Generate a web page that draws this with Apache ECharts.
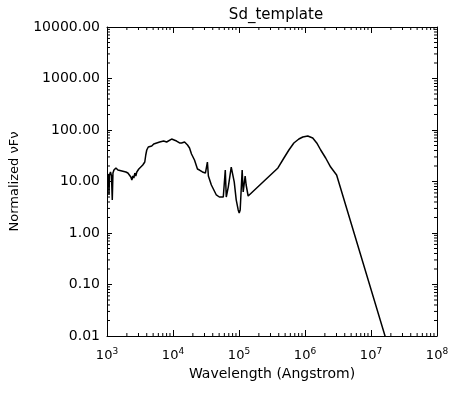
<!DOCTYPE html>
<html>
<head>
<meta charset="utf-8">
<script src="https://cdn.jsdelivr.net/npm/echarts@6/dist/echarts.min.js"></script>
<style>
html,body{margin:0;padding:0;background:#fff;}
#c{width:472px;height:394px;}
</style>
</head>
<body>
<div id="c"></div>
<script>
// Data (wavelength in Angstrom, normalized nuFnu)
const wavelength = [1024,1054,1072,1091,1129,1169,1202,1231,1274,1366,1464,1569,1682,1803,1932,2072,2220,2298,2380,2464,2551,2640,2733,2830,3033,3251,3484,3735,3867,4003,4220,4443,4762,5105,5664,6285,6731,7213,8008,8583,9526,10210,11330,12570,13490,14960,16600,17800,19070,21160,23470,25170,27920,30980,33200,34370,38130,42310,45350,50320,57810,61970,64140,68750,76290,84650,90730,97250,100700,104200,111700,115700,123900,128300,137600,231300,389100,479400,570400,678100,807000,926000,1102000,1310000,1506000,1729000,2056000,2447000,3013000,16480000];
const flux = [11.7,14.0,5.47,13.4,15.3,12.8,4.4,14.6,16.7,18.3,16.7,17.5,16.0,16.7,15.3,14.6,13.4,12.2,10.7,12.8,11.7,14.6,12.8,15.3,17.5,19.1,20.9,23.9,32.7,40.9,46.8,51.1,48.9,53.5,56.0,58.5,56.0,61.1,58.5,63.9,66.8,63.9,61.1,56.0,56.0,58.5,51.1,44.7,34.2,26.1,17.5,16.7,15.3,14.6,23.9,12.8,8.55,6.54,5.47,5.0,5.0,16.7,5.0,7.8,19.1,9.8,4.4,2.8,2.44,2.8,16.7,6.25,12.8,8.55,5.23,9.8,18.3,28.6,40.9,56.0,66.8,73.1,76.4,70.0,56.0,40.9,28.6,19.1,13.4,0.0096];
const xRange = [1e3, 1e8];
const yRange = [0.01, 1e4];
const chartTitle = 'Sd_template';
const xTitle = 'Wavelength (Angstrom)';
const yTitle = 'Normalized \u03bdF\u03bd';

const pairs = wavelength.map((w, i) => [w, flux[i]]);

function minorVals(lo, hi) {
  const out = [];
  for (let k = Math.round(Math.log10(lo)); k < Math.round(Math.log10(hi)); k++) {
    for (let m = 2; m <= 9; m++) out.push(m * Math.pow(10, k));
  }
  return out;
}
const xMinor = minorVals(xRange[0], xRange[1]);
const yMinor = minorVals(yRange[0], yRange[1]);

const FONT = 'DejaVu Sans';
const chart = echarts.init(document.getElementById('c'), null, {renderer: 'canvas'});
const axisCommon = {
  type: 'log', logBase: 10,
  axisLine: {show: true, onZero: false, lineStyle: {color: '#000', width: 1}},
  splitLine: {show: false},
  minorTick: {show: false}
};
chart.setOption({
  animation: false,
  backgroundColor: '#fff',
  title: {
    text: chartTitle, left: 271, textAlign: 'center', top: 3,
    textStyle: {fontFamily: FONT, fontSize: 15, fontWeight: 'normal', color: '#000'}
  },
  grid: {left: 105, right: 35, top: 27, bottom: 58},
  xAxis: [
    Object.assign({}, axisCommon, {
      min: xRange[0], max: xRange[1], position: 'bottom', interval: 1,
      axisTick: {show: true, inside: true, length: 6, lineStyle: {color: '#000'}},
      axisLabel: {
        margin: 11, color: '#000', fontFamily: FONT,
        formatter: v => '{b|10}{s|' + Math.round(Math.log10(v)) + '}',
        rich: {
          b: {fontFamily: FONT, fontSize: 13, color: '#000'},
          s: {fontFamily: FONT, fontSize: 9, color: '#000', padding: [0, 0, 8, 0]}
        }
      },
      name: xTitle, nameLocation: 'middle', nameGap: 30,
      nameTextStyle: {fontFamily: FONT, fontSize: 14, color: '#000'}
    }),
    Object.assign({}, axisCommon, {
      min: xRange[0], max: xRange[1], position: 'top', interval: 1,
      axisTick: {show: true, inside: true, length: 6, lineStyle: {color: '#000'}},
      axisLabel: {show: false}
    })
  ],
  yAxis: [
    Object.assign({}, axisCommon, {
      min: yRange[0], max: yRange[1], position: 'left', interval: 1,
      axisTick: {show: true, inside: true, length: 5, lineStyle: {color: '#000'}},
      axisLabel: {
        margin: 7, color: '#000', fontFamily: FONT, fontSize: 14,
        formatter: v => v.toFixed(2)
      },
      name: yTitle, nameLocation: 'middle', nameGap: 86,
      nameTextStyle: {fontFamily: FONT, fontSize: 13, color: '#000'}
    }),
    Object.assign({}, axisCommon, {
      min: yRange[0], max: yRange[1], position: 'right', interval: 1,
      axisTick: {show: true, inside: true, length: 5, lineStyle: {color: '#000'}},
      axisLabel: {show: false}
    })
  ],
  series: [
    {
      type: 'line', xAxisIndex: 0, yAxisIndex: 0,
      data: pairs, showSymbol: false, symbol: 'none',
      lineStyle: {color: '#000', width: 1.5}, clip: true, z: 5
    },
    {
      type: 'custom', xAxisIndex: 0, yAxisIndex: 0, silent: true,
      data: xMinor.map(v => [v, yRange[0]]),
      clip: false,
      renderItem: function (params, api) {
        const p = api.coord([api.value(0), yRange[0]]);
        const cs = params.coordSys;
        const st = {stroke: '#000', lineWidth: 1};
        return {type: 'group', children: [
          {type: 'line', shape: {x1: p[0], y1: cs.y + cs.height, x2: p[0], y2: cs.y + cs.height - 3}, style: st},
          {type: 'line', shape: {x1: p[0], y1: cs.y, x2: p[0], y2: cs.y + 3}, style: st}
        ]};
      }
    },
    {
      type: 'custom', xAxisIndex: 0, yAxisIndex: 0, silent: true,
      data: yMinor.map(v => [xRange[0], v]),
      clip: false,
      renderItem: function (params, api) {
        const p = api.coord([xRange[0], api.value(1)]);
        const cs = params.coordSys;
        const st = {stroke: '#000', lineWidth: 1};
        return {type: 'group', children: [
          {type: 'line', shape: {x1: cs.x, y1: p[1], x2: cs.x + 3, y2: p[1]}, style: st},
          {type: 'line', shape: {x1: cs.x + cs.width, y1: p[1], x2: cs.x + cs.width - 3, y2: p[1]}, style: st}
        ]};
      }
    }
  ]
});
</script>
</body>
</html>
